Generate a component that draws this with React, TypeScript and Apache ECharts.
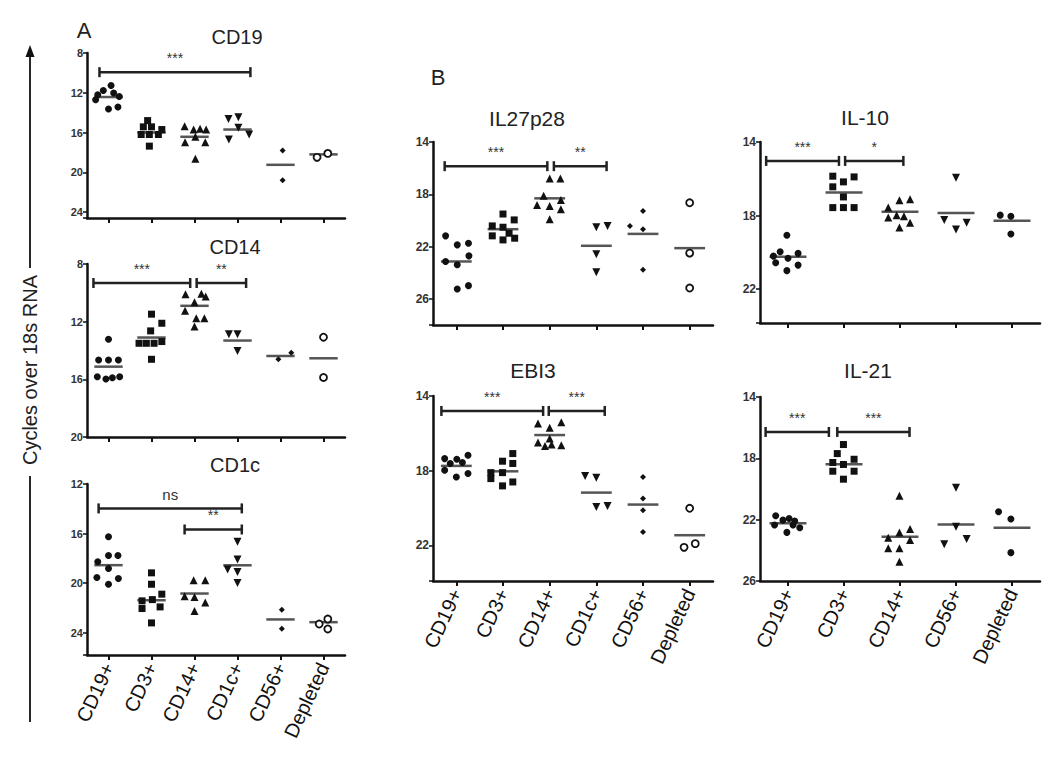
import React, { useEffect, useRef } from "react";
import * as echarts from "echarts";

// ---------- DATA ----------
const CATEGORIES_SIX = ["CD19+", "CD3+", "CD14+", "CD1c+", "CD56+", "Depleted"];
const CATEGORIES_FIVE = ["CD19+", "CD3+", "CD14+", "CD56+", "Depleted"];

const TITLES = ["CD19", "CD14", "CD1c", "IL27p28", "EBI3", "IL-10", "IL-21"];
const Y_AXIS_TITLE = "Cycles over 18s RNA";

const CD19_TICKS = [8, 12, 16, 20, 24];
const CD19_VALUES = [
  [11.27, 11.77, 12.03, 12.2, 12.37, 12.7, 13.63, 13.43],
  [14.8, 15.43, 15.43, 15.7, 16.2, 16.2, 16.2, 17.37],
  [15.37, 15.7, 15.63, 15.7, 16.97, 16.43, 16.97, 18.63],
  [14.63, 14.47, 15.53, 16.7, 16.2],
  [17.8, 20.8],
  [18.5, 18.1],
];
const CD19_JITTER = [
  [0.06, -0.12, 0.12, -0.25, 0.25, -0.3, 0, 0.22],
  [-0.09, -0.19, 0, 0.24, -0.24, -0.05, 0.16, -0.05],
  [-0.23, -0.02, 0.13, 0.27, -0.22, 0.02, 0.25, 0.02],
  [-0.21, 0.02, 0.02, -0.2, 0.27],
  [0.05, 0.05],
  [-0.15, 0.1],
];
const CD19_MEANS = [12.43, 16.0, 16.43, 15.7, 19.25, 18.2];
const CD19_BRACKETS = [[-0.21, 3.3, 9.93, "***"]];

const CD14_TICKS = [8, 12, 16, 20];
const CD14_VALUES = [
  [13.22, 14.66, 14.66, 14.66, 15.82, 15.98, 15.89, 15.82],
  [11.48, 12.11, 12.64, 13.5, 13.5, 13.5, 13.38, 14.61],
  [10.09, 10.06, 10.25, 10.65, 11.25, 11.76, 11.76, 12.34],
  [12.87, 12.87, 14.03],
  [14.61, 14.15],
  [13.08, 15.87],
];
const CD14_JITTER = [
  [0, -0.23, 0, 0.23, -0.26, -0.06, 0.09, 0.26],
  [0, 0.24, -0.02, -0.29, -0.12, 0.06, 0.24, 0],
  [-0.21, 0.16, 0.26, 0, -0.22, 0.04, 0.23, 0],
  [-0.2, 0, 0],
  [-0.05, 0.25],
  [0, 0],
];
const CD14_MEANS = [15.12, 13.1, 10.9, 13.31, 14.38, 14.54];
const CD14_BRACKETS = [
  [-0.35, 1.9, 9.32, "***"],
  [2.05, 3.2, 9.32, "**"],
];

const CD1C_TICKS = [12, 16, 20, 24];
const CD1C_VALUES = [
  [16.26, 17.77, 17.77, 18.28, 18.82, 19.55, 19.63, 20.09],
  [19.17, 20.09, 20.89, 21.43, 21.33, 22.05, 21.92, 23.21],
  [19.76, 19.76, 21.06, 21.11, 21.57, 22.24],
  [16.67, 18.1, 18.91, 19.1, 19.99],
  [22.15, 23.68],
  [22.9, 23.7, 23.3],
];
const CD1C_JITTER = [
  [0, 0, 0.22, -0.25, 0, -0.27, 0.23, 0],
  [0, 0, 0.24, -0.22, 0.02, -0.22, 0.2, 0],
  [-0.02, 0.25, -0.23, 0, 0.25, 0],
  [0, 0, -0.23, 0, 0],
  [0.03, 0.03],
  [0.1, 0.1, -0.1],
];
const CD1C_MEANS = [18.55, 21.38, 20.84, 18.56, 22.93, 23.15];
const CD1C_BRACKETS = [
  [-0.23, 3.1, 13.97, "ns"],
  [1.77, 3.1, 15.67, "**"],
];

const IL27_TICKS = [14, 18, 22, 26];
const IL27_VALUES = [
  [21.18, 21.87, 21.74, 23.14, 23.39, 22.71, 25.24, 24.99],
  [19.51, 19.96, 20.42, 20.52, 21.18, 20.98, 21.36, 21.49],
  [16.79, 16.79, 18.11, 18.44, 18.82, 18.9, 19.15, 19.91],
  [20.52, 20.42, 22.58, 23.97],
  [19.28, 20.42, 20.67, 23.77],
  [18.65, 22.5, 25.17],
];
const IL27_JITTER = [
  [-0.23, 0.02, 0.26, -0.23, 0.02, 0.27, 0.02, 0.26],
  [0, 0.24, -0.23, 0, -0.23, 0.13, 0.25, 0],
  [0, 0.23, -0.13, 0.24, -0.27, 0, 0.24, 0],
  [0, 0.24, 0, 0],
  [0, -0.28, 0, 0],
  [0, 0, 0],
];
const IL27_MEANS = [23.14, 20.67, 18.31, 21.94, 21.03, 22.12];
const IL27_BRACKETS = [
  [-0.25, 1.95, 15.85, "***"],
  [2.09, 3.22, 15.85, "**"],
];

const EBI3_TICKS = [14, 18, 22];
const EBI3_VALUES = [
  [17.35, 17.61, 17.38, 17.56, 17.17, 17.97, 18.33, 18.15],
  [17.08, 17.49, 17.61, 18.1, 18.1, 18.42, 18.6, 18.81],
  [15.47, 15.7, 15.41, 16.27, 16.49, 16.67, 16.59, 16.63],
  [18.28, 18.38, 19.94, 19.89],
  [18.33, 19.49, 20.12, 21.28],
  [20.01, 22.1, 21.9],
];
const EBI3_JITTER = [
  [-0.25, -0.13, 0.01, 0.13, 0.25, -0.25, 0, 0.25],
  [0.21, -0.01, 0.21, -0.26, -0.01, -0.26, 0.21, -0.01],
  [-0.25, 0, 0.25, 0, -0.25, -0.1, 0.04, 0.25],
  [-0.24, 0, 0, 0.24],
  [0, 0, 0, 0],
  [0, -0.12, 0.12],
];
const EBI3_MEANS = [17.74, 18.03, 16.09, 19.17, 19.81, 21.45];
const EBI3_BRACKETS = [
  [-0.32, 1.86, 14.8, "***"],
  [1.98, 3.18, 14.8, "***"],
];

const IL10_TICKS = [14, 18, 22];
const IL10_VALUES = [
  [19.07, 19.97, 20.21, 20.33, 20.06, 20.57, 20.7, 21.0],
  [15.86, 16.17, 15.9, 16.44, 16.99, 17.57, 17.57, 17.57],
  [17.17, 17.11, 17.57, 18.11, 17.98, 18.04, 18.4, 18.65],
  [15.94, 18.25, 18.76, 18.4],
  [17.98, 18.04, 19.01],
];
const IL10_JITTER = [
  [-0.02, -0.14, -0.26, 0, 0.18, -0.22, 0.18, -0.02],
  [-0.2, -0.01, 0.18, -0.2, -0.01, -0.2, -0.01, 0.18],
  [-0.01, 0.18, -0.21, -0.21, -0.06, 0.07, 0.18, -0.01],
  [0, -0.21, 0, 0.19],
  [-0.21, -0.02, -0.02],
];
const IL10_MEANS = [20.24, 16.75, 17.8, 17.86, 18.29];
const IL10_BRACKETS = [
  [-0.39, 0.91, 15.03, "***"],
  [1.02, 2.06, 15.03, "*"],
];

const IL21_TICKS = [14, 18, 22, 26];
const IL21_VALUES = [
  [21.74, 22.03, 21.92, 22.09, 22.35, 22.53, 22.83, 22.35],
  [17.1, 17.69, 18.27, 18.4, 18.06, 18.84, 18.84, 19.36],
  [20.44, 22.83, 22.61, 23.18, 23.33, 23.87, 23.87, 24.74],
  [19.92, 22.46, 23.61, 23.26],
  [21.48, 21.96, 24.15],
];
const IL21_JITTER = [
  [-0.22, -0.09, 0.02, 0.12, -0.24, 0.21, -0.02, 0.09],
  [-0.01, -0.12, -0.2, -0.01, 0.18, -0.2, 0.18, -0.01],
  [-0.01, -0.01, 0.18, -0.21, 0.18, -0.21, -0.01, -0.01],
  [0, 0, -0.21, 0.19],
  [-0.24, -0.02, -0.02],
];
const IL21_MEANS = [22.24, 18.38, 23.11, 22.31, 22.53];
const IL21_BRACKETS = [
  [-0.4, 0.73, 16.28, "***"],
  [0.88, 2.17, 16.28, "***"],
];

const MARKERS_SIX = ["circle", "square", "triangle", "down", "diamond", "open"];
const MARKERS_FIVE = ["circle", "square", "triangle", "down", "circle"];

// ---------- STYLE / LAYOUT ----------
const FONT = "'Liberation Sans', Arial, Helvetica, sans-serif";
const INK = "#111";

function markerStyle(kind: string) {
  const solid = { color: INK, opacity: 1 };
  switch (kind) {
    case "square":
      return { symbol: "rect", symbolSize: 7, symbolRotate: 0, itemStyle: solid };
    case "triangle":
      return { symbol: "triangle", symbolSize: 8, symbolRotate: 0, itemStyle: solid };
    case "down":
      return { symbol: "triangle", symbolSize: 8, symbolRotate: 180, itemStyle: solid };
    case "diamond":
      return { symbol: "diamond", symbolSize: 6, symbolRotate: 0, itemStyle: solid };
    case "open":
      return {
        symbol: "circle",
        symbolSize: 7,
        symbolRotate: 0,
        itemStyle: { color: "#fff", borderColor: INK, borderWidth: 1.8, opacity: 1 },
      };
    default:
      return { symbol: "circle", symbolSize: 7, symbolRotate: 0, itemStyle: solid };
  }
}

export default function App() {
  const ref = useRef<HTMLDivElement>(null);

  useEffect(() => {
    if (!ref.current) return;
    const chart = echarts.init(ref.current, undefined, { renderer: "svg" });

    const panels = [
      { title: TITLES[0], cats: CATEGORIES_SIX, markers: MARKERS_SIX, values: CD19_VALUES, jitter: CD19_JITTER, means: CD19_MEANS, brackets: CD19_BRACKETS, ticks: CD19_TICKS, yMax: 24.6, grid: { left: 87, top: 53, width: 258, height: 165 }, labels: false, titlePos: [237, 37], titleSize: 20, tickFont: 11 },
      { title: TITLES[1], cats: CATEGORIES_SIX, markers: MARKERS_SIX, values: CD14_VALUES, jitter: CD14_JITTER, means: CD14_MEANS, brackets: CD14_BRACKETS, ticks: CD14_TICKS, yMax: 20, grid: { left: 87, top: 264, width: 258, height: 173 }, labels: false, titlePos: [235, 247], titleSize: 20, tickFont: 11 },
      { title: TITLES[2], cats: CATEGORIES_SIX, markers: MARKERS_SIX, values: CD1C_VALUES, jitter: CD1C_JITTER, means: CD1C_MEANS, brackets: CD1C_BRACKETS, ticks: CD1C_TICKS, yMax: 25.8, grid: { left: 87, top: 484, width: 258, height: 171 }, labels: true, titlePos: [235, 465], titleSize: 20, tickFont: 11 },
      { title: TITLES[3], cats: CATEGORIES_SIX, markers: MARKERS_SIX, values: IL27_VALUES, jitter: IL27_JITTER, means: IL27_MEANS, brackets: IL27_BRACKETS, ticks: IL27_TICKS, yMax: 28, grid: { left: 433, top: 142, width: 280, height: 183 }, labels: false, titlePos: [527, 118], titleSize: 21, tickFont: 12 },
      { title: TITLES[4], cats: CATEGORIES_SIX, markers: MARKERS_SIX, values: EBI3_VALUES, jitter: EBI3_JITTER, means: EBI3_MEANS, brackets: EBI3_BRACKETS, ticks: EBI3_TICKS, yMax: 23.9, grid: { left: 433, top: 396, width: 280, height: 185 }, labels: true, titlePos: [533, 370], titleSize: 21, tickFont: 12 },
      { title: TITLES[5], cats: CATEGORIES_FIVE, markers: MARKERS_FIVE, values: IL10_VALUES, jitter: IL10_JITTER, means: IL10_MEANS, brackets: IL10_BRACKETS, ticks: IL10_TICKS, yMax: 23.85, grid: { left: 760, top: 142, width: 280, height: 181 }, labels: false, titlePos: [865, 117], titleSize: 21, tickFont: 12 },
      { title: TITLES[6], cats: CATEGORIES_FIVE, markers: MARKERS_FIVE, values: IL21_VALUES, jitter: IL21_JITTER, means: IL21_MEANS, brackets: IL21_BRACKETS, ticks: IL21_TICKS, yMax: 26, grid: { left: 760, top: 397, width: 280, height: 184 }, labels: true, titlePos: [868, 370], titleSize: 21, tickFont: 12 },
    ];

    const grids: any[] = [];
    const xAxes: any[] = [];
    const yAxes: any[] = [];
    const series: any[] = [];
    const graphics: any[] = [];

    panels.forEach((p, g) => {
      grids.push({ ...p.grid, containLabel: false, outerBoundsMode: "none" });
      const n = p.cats.length;
      xAxes.push({
        type: "category",
        gridIndex: g,
        data: p.cats,
        boundaryGap: true,
        position: "bottom",
        axisLine: { show: true, onZero: false, lineStyle: { color: INK, width: 2.5 } },
        axisTick: { show: true, alignWithLabel: true, length: 5, lineStyle: { color: INK, width: 2 } },
        axisLabel: {
          show: p.labels,
          rotate: 65,
          fontSize: 20,
          color: INK,
          fontFamily: FONT,
          margin: 9,
          interval: 0,
        },
        splitLine: { show: false },
      });
      xAxes.push({
        type: "value",
        gridIndex: g,
        min: -0.5,
        max: n - 0.5,
        show: false,
        splitLine: { show: false },
      });
      const ticks = p.ticks;
      yAxes.push({
        type: "value",
        gridIndex: g,
        inverse: true,
        min: ticks[0],
        max: p.yMax,
        interval: 4,
        axisLine: { show: true, onZero: false, lineStyle: { color: INK, width: 2.5 } },
        axisTick: { show: true, length: 4, lineStyle: { color: INK, width: 1.5 } },
        axisLabel: {
          show: true,
          margin: 4,
          fontSize: p.tickFont,
          fontWeight: "bold",
          color: "#333",
          fontFamily: FONT,
          formatter: (v: number) => (ticks.indexOf(v) >= 0 ? String(v) : ""),
        },
        splitLine: { show: false },
      });

      const xIdx = 2 * g + 1;

      // mean lines
      series.push({
        type: "custom",
        xAxisIndex: xIdx,
        yAxisIndex: g,
        z: 2,
        silent: true,
        data: p.means.map((m, i) => [i, m]),
        renderItem: (_params: any, api: any) => {
          const pt = api.coord([api.value(0), api.value(1)]);
          const w = api.size([1, 0])[0] * 0.33;
          return {
            type: "line",
            shape: { x1: pt[0] - w, y1: pt[1], x2: pt[0] + w, y2: pt[1] },
            style: { stroke: "#555", lineWidth: 2.5 },
          };
        },
      });

      // points
      p.values.forEach((vals, i) => {
        const st = markerStyle(p.markers[i]);
        series.push({
          type: "scatter",
          xAxisIndex: xIdx,
          yAxisIndex: g,
          z: 3,
          silent: true,
          symbol: st.symbol,
          symbolSize: st.symbolSize,
          symbolRotate: st.symbolRotate,
          itemStyle: st.itemStyle,
          data: vals.map((v, k) => [i + p.jitter[i][k], v]),
        });
      });

      // significance brackets
      const brackets = p.brackets as any[];
      series.push({
        type: "custom",
        xAxisIndex: xIdx,
        yAxisIndex: g,
        z: 4,
        silent: true,
        data: brackets.map((b) => [b[0], b[2], b[1]]),
        renderItem: (params: any, api: any) => {
          const b = brackets[params.dataIndex];
          const p1 = api.coord([b[0], b[2]]);
          const p2 = api.coord([b[1], b[2]]);
          const stroke = { stroke: "#222", lineWidth: 2.5 };
          return {
            type: "group",
            children: [
              { type: "line", shape: { x1: p1[0], y1: p1[1], x2: p2[0], y2: p2[1] }, style: stroke },
              { type: "line", shape: { x1: p1[0], y1: p1[1] - 5, x2: p1[0], y2: p1[1] + 5 }, style: stroke },
              { type: "line", shape: { x1: p2[0], y1: p2[1] - 5, x2: p2[0], y2: p2[1] + 5 }, style: stroke },
              {
                type: "text",
                x: (p1[0] + p2[0]) / 2,
                y: p1[1] - 14,
                style: {
                  text: b[3],
                  fill: "#333",
                  fontSize: b[3] === "ns" ? 15 : 14,
                  fontFamily: FONT,
                  align: "center",
                  verticalAlign: "middle",
                },
              },
            ],
          };
        },
      });

      graphics.push({
        type: "text",
        x: p.titlePos[0],
        y: p.titlePos[1],
        style: {
          text: p.title,
          fill: "#222",
          fontSize: p.titleSize,
          fontFamily: FONT,
          align: "center",
          verticalAlign: "middle",
        },
      });
    });

    graphics.push(
      { type: "text", x: 84, y: 30, style: { text: "A", fill: "#222", fontSize: 22, fontFamily: FONT, align: "center", verticalAlign: "middle" } },
      { type: "text", x: 438, y: 77, style: { text: "B", fill: "#222", fontSize: 22, fontFamily: FONT, align: "center", verticalAlign: "middle" } },
      {
        type: "text",
        x: 30,
        y: 370,
        rotation: Math.PI / 2,
        style: { text: Y_AXIS_TITLE, fill: "#222", fontSize: 20, fontFamily: FONT, align: "center", verticalAlign: "middle" },
      },
      { type: "line", shape: { x1: 30, y1: 268, x2: 30, y2: 56 }, style: { stroke: "#111", lineWidth: 1.8 } },
      { type: "polygon", shape: { points: [[30, 45], [25.5, 57], [34.5, 57]] }, style: { fill: "#111" } },
      { type: "line", shape: { x1: 30, y1: 476, x2: 30, y2: 722 }, style: { stroke: "#111", lineWidth: 1.8 } }
    );

    chart.setOption({
      animation: false,
      backgroundColor: "#fff",
      textStyle: { fontFamily: FONT },
      grid: grids,
      xAxis: xAxes,
      yAxis: yAxes,
      series,
      graphic: graphics,
    });

    return () => chart.dispose();
  }, []);

  return (
    <div
      ref={ref}
      style={{ position: "absolute", left: 0, top: 0, width: 1050, height: 759, background: "#fff" }}
    />
  );
}
